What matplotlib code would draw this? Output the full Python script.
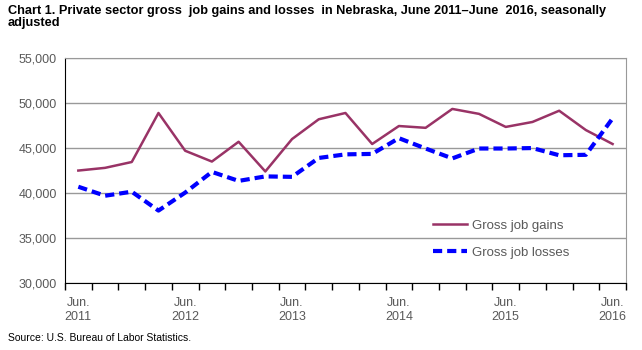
import numpy as np
import matplotlib.pyplot as plt

plt.rcParams['font.family'] = ['Liberation Sans', 'DejaVu Sans']

# quarterly values, June 2011 - June 2016
quarters = ['Jun. 2011', 'Sep. 2011', 'Dec. 2011', 'Mar. 2012',
            'Jun. 2012', 'Sep. 2012', 'Dec. 2012', 'Mar. 2013',
            'Jun. 2013', 'Sep. 2013', 'Dec. 2013', 'Mar. 2014',
            'Jun. 2014', 'Sep. 2014', 'Dec. 2014', 'Mar. 2015',
            'Jun. 2015', 'Sep. 2015', 'Dec. 2015', 'Mar. 2016',
            'Jun. 2016']
gains = [42500, 42800, 43450, 48900, 44700, 43500, 45700, 42400,
         46000, 48200, 48900, 45450, 47450, 47250, 49350, 48800,
         47350, 47900, 49150, 47000, 45450]
losses = [40700, 39700, 40150, 38050, 40050, 42350, 41350, 41850,
          41800, 43900, 44300, 44350, 46100, 44950, 43850, 44950,
          44950, 45000, 44200, 44250, 48300]
tick_labels = ['Jun.\n2011', 'Jun.\n2012', 'Jun.\n2013',
               'Jun.\n2014', 'Jun.\n2015', 'Jun.\n2016']

fig = plt.figure(figsize=(6.42, 3.5), dpi=100)
ax = fig.add_axes([0.1012, 0.1914, 0.8738, 0.6426])

x = np.arange(len(quarters))
ax.plot(x, gains, color='#993366', lw=1.8, label='Gross job gains')
ax.plot(x, losses, color='#0000FF', lw=3, ls=(0, (2.2, 1.2)),
        label='Gross job losses')

ax.set_xlim(-0.5, len(quarters) - 0.5)
ax.set_ylim(30000, 55000)
ax.set_yticks(np.arange(30000, 55001, 5000))
ax.set_yticklabels([f'{v:,}' for v in range(30000, 55001, 5000)])
ax.yaxis.grid(True, color='#999999', lw=1)
ax.set_axisbelow(True)
ax.tick_params(axis='y', length=0, pad=6, labelsize=9, labelcolor='#595959')

ax.set_xticks(x[::4])
ax.set_xticklabels(tick_labels)
ax.set_xticks(np.arange(-0.5, len(quarters)), minor=True)
ax.tick_params(axis='x', which='major', length=0, pad=10,
               labelsize=9, labelcolor='#595959')
ax.tick_params(axis='x', which='minor', length=5, color='black', width=1)

for s in ['top', 'right']:
    ax.spines[s].set_color('#999999')
ax.spines['left'].set_color('black')
ax.spines['bottom'].set_color('black')

leg = ax.legend(loc='lower left', bbox_to_anchor=(0.634, 0.055), frameon=False,
                fontsize=9.5, handlelength=2.6, handletextpad=0.4,
                labelspacing=1.1, labelcolor='#595959')

fig.text(0.012, 0.985, 'Chart 1. Private sector gross  job gains and losses  in Nebraska, '
         'June 2011\u2013June  2016, seasonally\nadjusted',
         fontsize=9.2, fontweight='bold', va='top', ha='left', linespacing=1.0)
fig.text(0.012, 0.02, 'Source: U.S. Bureau of Labor Statistics.', fontsize=7.5,
         va='bottom', ha='left')

fig.savefig('out.png', dpi=100)
